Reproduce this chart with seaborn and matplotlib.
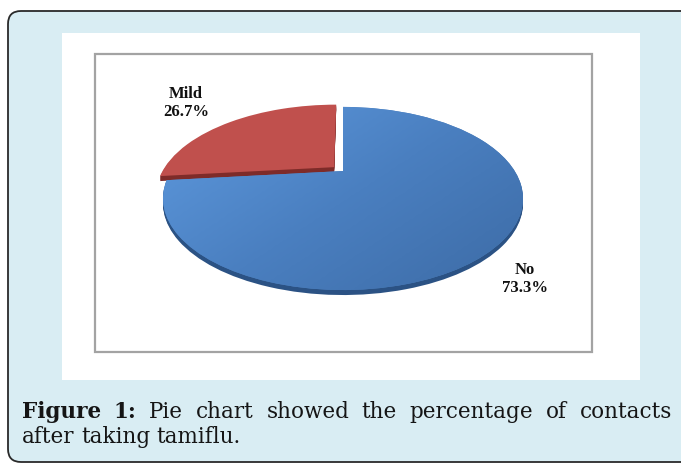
import numpy as np
import matplotlib
matplotlib.use("Agg")
import matplotlib.pyplot as plt
import seaborn as sns
from matplotlib.transforms import Transform, Affine2D
from matplotlib.patches import FancyBboxPatch, Rectangle, PathPatch
from matplotlib.colors import LinearSegmentedColormap

sns.set_theme(style="white")

# Data
labels = ["No", "Mild"]
values = [73.3, 26.7]
colors = ["#4f81bd", "#c0504d"]
side_colors = ["#2b5284", "#7e2b29"]
explode = [0, 0.07]
label_pos = [(525, 279), (186, 103)]
caption_lines = [
    ["Figure", "1:", "Pie", "chart", "showed", "the", "percentage", "of", "contacts"],
    ["after", "taking", "tamiflu."],
]
bold_words = 2


# simple tilted-disk perspective, output in pixel coords (y down)
class Tilt(Transform):
    input_dims = 2
    output_dims = 2

    def __init__(self, cx, cy, f, cf, s):
        super().__init__()
        self.cx, self.cy, self.f, self.cf, self.s = cx, cy, f, cf, s

    def transform_non_affine(self, xy):
        xy = np.asarray(xy, dtype=float)
        w = 1 + self.s * xy[:, 1]
        return np.column_stack([self.cx + self.f * xy[:, 0] / w,
                                self.cy - self.cf * xy[:, 1] / w])


fig = plt.figure(figsize=(6.81, 4.63), dpi=100)
fig.patch.set_facecolor("white")

px = fig.add_axes([0, 0, 1, 1])
px.set_xlim(0, 681)
px.set_ylim(463, 0)
px.axis("off")

# page background, white panel, chart frame
px.add_patch(FancyBboxPatch((8, 11), 720, 451, boxstyle="round,pad=0,rounding_size=13",
                            fc="#d9edf3", ec="#2a2a2a", lw=1.3))
px.add_patch(Rectangle((62, 33), 578, 347, fc="white", ec="none"))
px.add_patch(Rectangle((95, 54), 497, 298, fc="none", ec="#a3a3a3", lw=1.6))

# pie
pa = fig.add_axes([0, 0, 1, 1])
wedges, _ = pa.pie(values, colors=colors, startangle=90, counterclock=False,
                   explode=explode, wedgeprops=dict(linewidth=0))
pa.axis("off")

tilt = Tilt(343, 171, 171.7, 83.3, 0.3)
order = {1: 1, 0: 3}  # red behind, blue in front
for i, w in enumerate(wedges):
    base = order[i]
    path = w.get_path()
    for k in range(1, 6):
        side = PathPatch(path, fc=side_colors[i], ec="none",
                         transform=tilt + Affine2D().translate(0, k) + px.transData)
        side.set_clip_on(False)
        side.set_zorder(base)
        pa.add_patch(side)
    w.set_transform(tilt + px.transData)
    w.set_clip_on(False)
    w.set_zorder(base + 0.5)

# soft shading on the blue top
gx, gy = np.meshgrid(np.linspace(0, 1, 200), np.linspace(0, 1, 120))
shade = 0.55 * gx + 0.45 * (1 - gy)
cmap = LinearSegmentedColormap.from_list("b", ["#5f9be0", "#4a7fc0", "#3c6aa4"])
im = pa.imshow(shade, cmap=cmap, extent=(160, 530, 100, 300), transform=px.transData,
               aspect="auto", zorder=3.6, interpolation="bilinear")
im.set_clip_path(wedges[0])
pa.set_xlim(-1.25, 1.25)
pa.set_ylim(-1.25, 1.25)

# labels
for name, v, (lx, ly) in zip(labels, values, label_pos):
    px.text(lx, ly, f"{name}\n{v}%", ha="center", va="center", fontsize=12,
            fontweight="bold", family="Liberation Serif", color="#111111",
            linespacing=1.1)

# caption, first line justified
fig.canvas.draw()
r = fig.canvas.get_renderer()
x0, x1 = 22, 672
baselines = [418, 443]
fs = 15.5
for li, words in enumerate(caption_lines):
    texts = []
    for wi, word in enumerate(words):
        bold = li == 0 and wi < bold_words
        t = px.text(0, baselines[li], word, ha="left", va="baseline", fontsize=fs,
                    family="DejaVu Serif", fontweight="bold" if bold else "normal",
                    color="#151515")
        texts.append(t)
    widths = [t.get_window_extent(r).width for t in texts]
    if li == 0:
        gap = (x1 - x0 - sum(widths)) / (len(words) - 1)
    else:
        gap = 0.3 * fs * 100 / 72
    x = x0
    for t, wd in zip(texts, widths):
        t.set_x(x)
        x += wd + gap

fig.savefig("out.png", dpi=100)
